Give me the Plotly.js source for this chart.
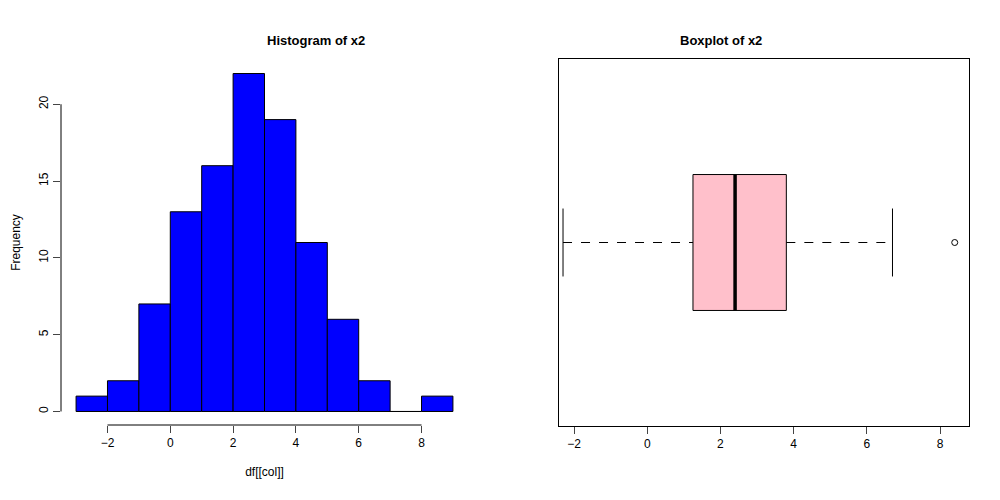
<!DOCTYPE html>
<html><head><script src="https://cdn.plot.ly/plotly-3.0.1.min.js"></script></head>
<body style="margin:0"><div id="c" style="width:1000px;height:500px"></div>
<script>
const binCenters=[-2.5,-1.5,-0.5,0.5,1.5,2.5,3.5,4.5,5.5,6.5,7.5,8.5];
const counts=[1,2,7,13,16,22,19,11,6,2,0,1];
const boxStats={min:-2.3,q1:1.25,median:2.4,q3:3.8,max:6.7};
const outliers=[8.4];
const xTicks=[-2,0,2,4,6,8];
const yTicks=[0,5,10,15,20];
const f={family:'Liberation Sans, Arial',size:12,color:'#000'};
const s=boxStats;
const traces=[
 {type:'bar',x:binCenters,y:counts,width:1,marker:{color:'#0000ff',line:{color:'#000',width:1}},xaxis:'x',yaxis:'y',hoverinfo:'none'},
 {type:'scatter',mode:'lines',x:[s.q1,s.q3,s.q3,s.q1,s.q1],y:[0.8,0.8,1.2,1.2,0.8],fill:'toself',fillcolor:'#ffc0cb',line:{color:'#000',width:1},xaxis:'x2',yaxis:'y2'},
 {type:'scatter',mode:'lines',x:[s.median,s.median],y:[0.8,1.2],line:{color:'#000',width:3.5},xaxis:'x2',yaxis:'y2'},
 {type:'scatter',mode:'lines',x:[s.min,s.q1,null,s.q3,s.max],y:[1,1,null,1,1],line:{color:'#000',width:1,dash:'dash'},xaxis:'x2',yaxis:'y2'},
 {type:'scatter',mode:'lines',x:[s.min,s.min,null,s.max,s.max],y:[0.9,1.1,null,0.9,1.1],line:{color:'#000',width:1},xaxis:'x2',yaxis:'y2'},
 {type:'scatter',mode:'markers',x:outliers,y:outliers.map(()=>1),marker:{symbol:'circle-open',size:6,color:'#000',line:{width:1}},xaxis:'x2',yaxis:'y2'}
];
const layout={width:1000,height:500,showlegend:false,paper_bgcolor:'#fff',plot_bgcolor:'#fff',margin:{l:0,r:0,t:0,b:0},font:f,
 xaxis:{domain:[0.061,0.468],range:[-3.48,9.48],tickvals:xTicks,ticks:'outside',ticklen:7,showgrid:false,zeroline:false,showline:false,tickfont:f,
   title:{text:'df[[col]]',font:f,standoff:18},anchor:'y'},
 yaxis:{domain:[0.15,0.88],range:[-0.88,22.88],tickvals:yTicks,ticks:'outside',ticklen:7,tickangle:-90,showgrid:false,zeroline:false,showline:false,tickfont:f,
   title:{text:'Frequency',font:f,standoff:14},anchor:'x'},
 xaxis2:{domain:[0.559,0.969],range:[-2.41,8.79],tickvals:xTicks,ticks:'outside',ticklen:7,showgrid:false,zeroline:false,showline:true,mirror:true,linecolor:'#000',linewidth:1,tickfont:f,anchor:'y2'},
 yaxis2:{domain:[0.148,0.882],range:[0.46,1.54],showticklabels:false,ticks:'',showgrid:false,zeroline:false,showline:true,mirror:true,linecolor:'#000',linewidth:1,anchor:'x2'},
 shapes:[
  {type:'line',xref:'x',yref:'paper',x0:-2,x1:8,y0:0.15,y1:0.15,line:{color:'#000',width:1}},
  {type:'line',xref:'paper',yref:'y',x0:0.061,x1:0.061,y0:0,y1:20,line:{color:'#000',width:1}}
 ],
 annotations:[
  {text:'<b>Histogram of x2</b>',xref:'paper',yref:'paper',x:0.2645,y:0.938,showarrow:false,font:{family:'Liberation Sans, Arial',size:13,color:'#000'}},
  {text:'<b>Boxplot of x2</b>',xref:'paper',yref:'paper',x:0.764,y:0.938,showarrow:false,font:{family:'Liberation Sans, Arial',size:13,color:'#000'}}
 ]};
Plotly.newPlot('c',traces,layout,{staticPlot:true});
</script></body></html>
